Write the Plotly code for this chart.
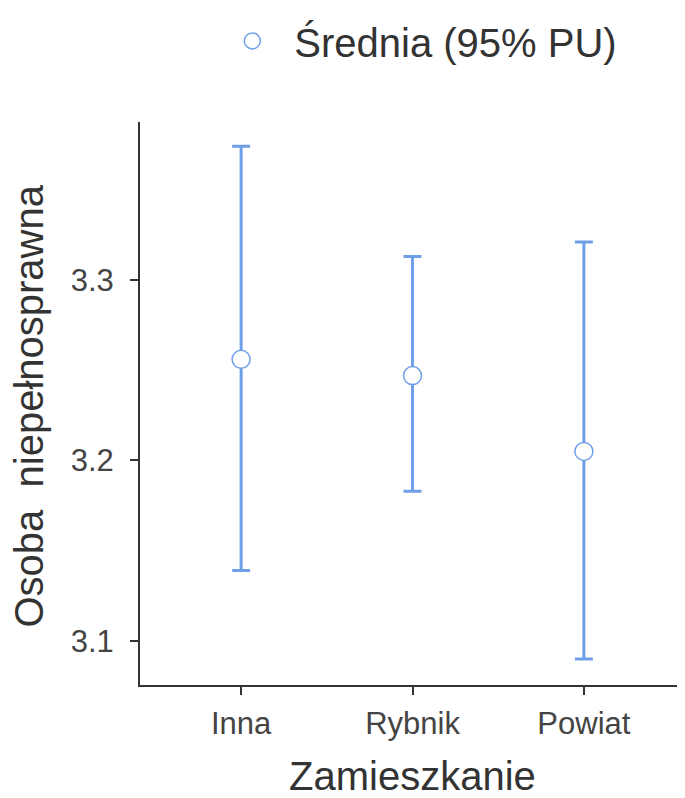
import plotly.graph_objects as go

categories = ["Inna", "Rybnik", "Powiat"]
means = [3.256, 3.247, 3.205]
upper = [3.374, 3.313, 3.321]
lower = [3.139, 3.183, 3.090]

err_plus = [u - m for u, m in zip(upper, means)]
err_minus = [m - l for m, l in zip(means, lower)]

color = "#6f9fe8"

fig = go.Figure()
fig.add_trace(go.Scatter(
    x=categories, y=means, mode="markers", name="Średnia (95% PU)",
    marker=dict(symbol="circle", size=18, color="white", line=dict(color=color, width=1.5)),
    error_y=dict(type="data", symmetric=False, array=err_plus, arrayminus=err_minus,
                 color=color, thickness=3, width=9),
    showlegend=True,
))

font_family = "Liberation Sans, Arial, sans-serif"
fig.update_layout(
    width=677, height=790,
    margin=dict(l=132, r=0, t=114, b=113),
    plot_bgcolor="white", paper_bgcolor="white",
    font=dict(family=font_family, color="#333333"),
    showlegend=True,
    legend=dict(orientation="h", x=0.507, xanchor="center", y=1.144, yanchor="middle",
                itemwidth=74,
                font=dict(size=40, color="#333333", family=font_family)),
    xaxis=dict(
        type="category", range=[-0.59, 2.59],
        showline=True, linecolor="#333333", linewidth=2,
        ticks="outside", ticklen=8, tickwidth=2, tickcolor="#333333",
        tickfont=dict(size=31, color="#444444"), ticklabelstandoff=2,
        showgrid=False, zeroline=False,
        title=dict(text="Zamieszkanie", font=dict(size=40, color="#333333"), standoff=27),
    ),
    yaxis=dict(
        range=[3.0756, 3.3875],
        tickvals=[3.1, 3.2, 3.3], ticktext=["3.1", "3.2", "3.3"],
        showline=True, linecolor="#333333", linewidth=2,
        ticks="outside", ticklen=8, tickwidth=2, tickcolor="#333333",
        tickfont=dict(size=31, color="#444444"), ticklabelstandoff=10,
        showgrid=False, zeroline=False,
    ),
    annotations=[dict(
        text="Osoba  niepełnosprawna", textangle=-90,
        xref="paper", yref="paper", x=-0.204, y=0.496,
        xanchor="center", yanchor="middle", showarrow=False,
        font=dict(size=40, color="#333333", family=font_family),
    )],
)

fig.write_html("out.html")
